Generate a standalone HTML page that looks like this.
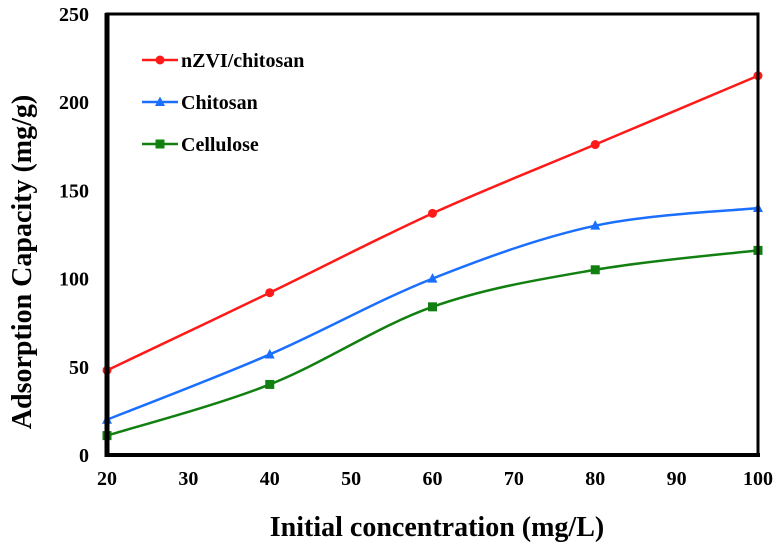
<!DOCTYPE html>
<html><head><meta charset="utf-8"><style>
body{margin:0;background:#fff}
svg text{font-family:"Liberation Serif",serif;font-weight:bold;fill:#000}
</style></head><body>
<svg id="chart" width="781" height="549" viewBox="0 0 781 549" xmlns="http://www.w3.org/2000/svg">
<g id="grid"></g>
<g id="series"></g>
<g id="axes"></g>
<g id="legend"></g>
<text x="437" y="536" font-size="28" text-anchor="middle">Initial concentration (mg/L)</text>
<text transform="translate(31,262) rotate(-90)" font-size="28" text-anchor="middle">Adsorption Capacity (mg/g)</text>
</svg>
<script>
const categories=[20,40,60,80,100];
const nzviValues=[48,92,137,176,215];
const chitosanValues=[20,57,100,130,140];
const celluloseValues=[11,40,84,105,116];
const xTicks=[20,30,40,50,60,70,80,90,100];
const yTicks=[0,50,100,150,200,250];
const seriesNames=["nZVI/chitosan","Chitosan","Cellulose"];
const NS="http://www.w3.org/2000/svg";
const L=107,R=758,T=14,B=455;
const sx=v=>L+(v-20)/80*(R-L);
const sy=v=>B-v/250*(B-T);
function mk(tag,attrs,parent){const e=document.createElementNS(NS,tag);for(const k in attrs)e.setAttribute(k,attrs[k]);parent.appendChild(e);return e;}
const axes=document.getElementById('axes'),ser=document.getElementById('series'),leg=document.getElementById('legend');
function path(pts){let d=`M${pts[0][0]},${pts[0][1]}`;for(let i=0;i<pts.length-1;i++){const p0=pts[i-1]||pts[i],p1=pts[i],p2=pts[i+1],p3=pts[i+2]||p2;const c1x=p1[0]+(p2[0]-p0[0])/6,c1y=p1[1]+(p2[1]-p0[1])/6,c2x=p2[0]-(p3[0]-p1[0])/6,c2y=p2[1]-(p3[1]-p1[1])/6;d+=`C${c1x},${c1y} ${c2x},${c2y} ${p2[0]},${p2[1]}`;}return d;}
const colors=["#ff1a1a","#1a6fff","#118011"],shapes=["circle","triangle","square"];
function marker(shape,x,y,c,p){
 if(shape==="circle")return mk('circle',{cx:x,cy:y,r:4.5,fill:c},p);
 if(shape==="square")return mk('rect',{x:x-4.5,y:y-4.5,width:9,height:9,fill:c},p);
 return mk('polygon',{points:`${x},${y-5.5} ${x+5},${y+4} ${x-5},${y+4}`,fill:c},p);
}
[nzviValues,chitosanValues,celluloseValues].forEach((vals,si)=>{
 const pts=categories.map((c,i)=>[sx(c),sy(vals[i])]);
 const g=mk('g',{},ser);
 
 
 const p=mk('path',{d:path(pts),fill:'none',stroke:colors[si],'stroke-width':2.5},g);
 
 
 pts.forEach((pt,i)=>{const m=marker(shapes[si],pt[0],pt[1],colors[si],g);
  
  });
});
const frame=mk('rect',{x:L,y:T,width:R-L,height:B-T,fill:'none',stroke:'#000','stroke-width':3},axes);


const la=mk('line',{x1:L,y1:T-1,x2:L,y2:B+2,stroke:'#000','stroke-width':5},axes);


const ba=mk('line',{x1:L-2,y1:B,x2:R+2,y2:B,stroke:'#000','stroke-width':4},axes);


xTicks.forEach(v=>{const t=mk('text',{x:sx(v),y:485,'font-size':20,'text-anchor':'middle'},axes);t.textContent=v;
 
 });
yTicks.forEach(v=>{const t=mk('text',{x:89,y:sy(v)+7,'font-size':20,'text-anchor':'end'},axes);t.textContent=v;
 
 });
seriesNames.forEach((n,i)=>{const y=60+i*42;const g=mk('g',{},leg);
 
 
 mk('line',{x1:142,y1:y,x2:178,y2:y,stroke:colors[i],'stroke-width':2.5},g);
 marker(shapes[i],160,y,colors[i],g);
 const t=mk('text',{x:181,y:y+7,'font-size':20},g);t.textContent=n;});
</script>
</body></html>
